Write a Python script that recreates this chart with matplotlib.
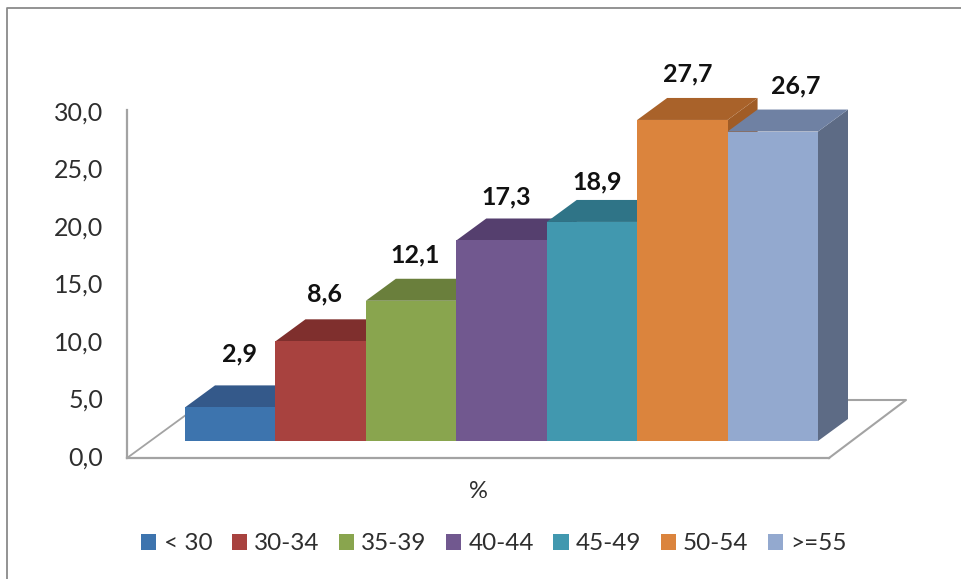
import matplotlib
matplotlib.use('Agg')
import matplotlib.pyplot as plt
from matplotlib.lines import Line2D
from matplotlib.patches import Polygon

W, H = 961, 579

# data
categories = ['< 30', '30-34', '35-39', '40-44', '45-49', '50-54', '>=55']
values = [2.9, 8.6, 12.1, 17.3, 18.9, 27.7, 26.7]
value_ticks = [0, 5, 10, 15, 20, 25, 30]

# colours
front_colors = ['#3d74ae', '#a8423f', '#89a54e', '#71588f', '#4198af', '#db843d', '#93a9cf']
top_colors = ['#34598a', '#7f2f2d', '#6a7f3c', '#553f6e', '#2f7487', '#a9622a', '#6f81a3']
side_colors = ['#2d4c75', '#6d2826', '#5b6d33', '#49365f', '#286474', '#a05c26', '#5d6b85']
line_gray = '#a3a3a3'

# label shift in pixels from the centre of each front top edge
label_dx = [9, 4, 4, 5, 5, 5, 23]
label_dy = [53, 47, 46, 44, 40, 46, 46]

plt.rcParams['font.family'] = ['Lato', 'DejaVu Sans']


def box(left, top, right, bottom):
    return [left / W, 1 - bottom / H, (right - left) / W, (bottom - top) / H]


def fx(x):
    return x / W


def fy(y):
    return 1 - y / H


fig = plt.figure(figsize=(W / 100, H / 100), dpi=100, facecolor='white')

# picture frame
fig.add_artist(Line2D([fx(7), fx(7), fx(961)], [fy(579), fy(8), fy(8)], color='#8a8a8a', lw=1.3, zorder=0))

# floor lines go behind the bars
fig.add_artist(Line2D([fx(127), fx(190)], [fy(458), fy(412)], color=line_gray, lw=1.3, zorder=0))
fig.add_artist(Line2D([fx(829), fx(906), fx(840)], [fy(458), fy(400), fy(400)], color=line_gray, lw=1.5, zorder=0))

# value axis
ax_wall = fig.add_axes(box(127, 110, 829, 458), zorder=1)
ax_wall.set_xlim(0, 1)
ax_wall.set_ylim(0, 30.26)
ax_wall.patch.set_alpha(0)
ax_wall.set_xticks([])
ax_wall.set_yticks(value_ticks)
ax_wall.set_yticklabels([('%.1f' % v).replace('.', ',') for v in value_ticks], va='center')
ax_wall.tick_params(axis='y', length=0, pad=17, labelsize=18, labelcolor='#2e2e2e')
for name in ['top', 'right']:
    ax_wall.spines[name].set_visible(False)
for name in ['left', 'bottom']:
    ax_wall.spines[name].set_color(line_gray)
    ax_wall.spines[name].set_linewidth(1.6)

# bars
ax = fig.add_axes(box(185, 93, 818, 441), zorder=2)
ax.set_xlim(-0.5, 6.5)
ax.set_ylim(0, 348 / 11.59)
ax.patch.set_alpha(0)
ax.set_xticks([])
ax.set_yticks([])
for spine in ax.spines.values():
    spine.set_visible(False)

depth_x = 30 / (633 / 7)
depth_y = 22 / 11.59

for i, v in enumerate(values):
    x0, x1 = i - 0.5, i + 0.5
    ax.add_patch(Polygon([(x1, 0), (x1 + depth_x, depth_y), (x1 + depth_x, v + depth_y), (x1, v)],
                         facecolor=side_colors[i], edgecolor='none', clip_on=False, zorder=2 + i))
    ax.add_patch(Polygon([(x0, v), (x1, v), (x1 + depth_x, v + depth_y), (x0 + depth_x, v + depth_y)],
                         facecolor=top_colors[i], edgecolor='none', clip_on=False, zorder=2 + i))
    ax.bar(i, v, width=1.0, color=front_colors[i], label=categories[i], zorder=2.5 + i)
    ax.annotate(('%.1f' % v).replace('.', ','), xy=(i, v), xytext=(label_dx[i], label_dy[i]),
                textcoords='offset pixels', ha='center', va='center',
                fontsize=18, fontweight='bold', color='#111111', annotation_clip=False, zorder=20)

ax.set_xlabel('%', fontsize=17, color='#2e2e2e')
ax.xaxis.set_label_coords((478 - 185) / 633, -(491 - 441) / 348, transform=ax.transAxes)
ax.xaxis.label.set_verticalalignment('center')

handles, labels = ax.get_legend_handles_labels()
fig.legend(handles, labels, ncol=7, loc='center', bbox_to_anchor=(fx(494), fy(544)), frameon=False,
           fontsize=17.5, labelcolor='#2e2e2e', handlelength=0.62, handleheight=0.62,
           handletextpad=0.3, columnspacing=0.8)

fig.savefig('out.png', dpi=100, facecolor='white')
